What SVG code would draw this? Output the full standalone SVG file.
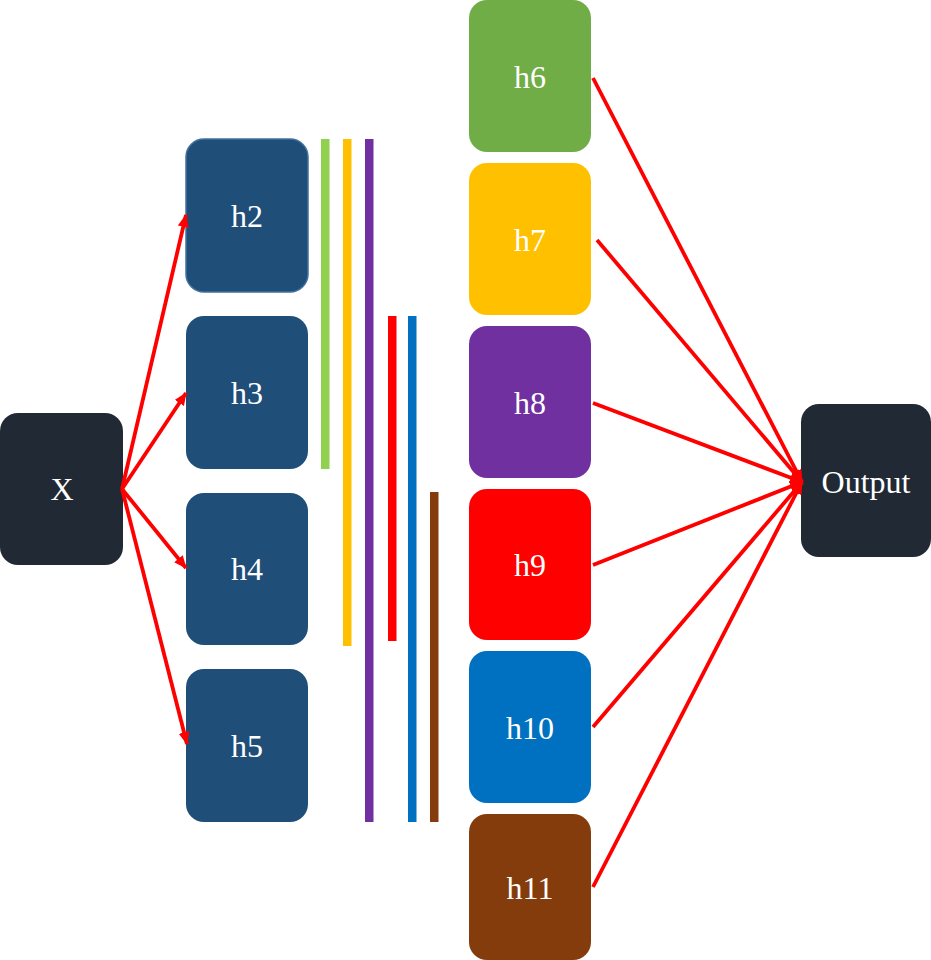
<svg xmlns="http://www.w3.org/2000/svg" width="931" height="960" viewBox="0 0 931 960">
<style>
.node text{font-family:"Liberation Serif","Times New Roman",serif;font-size:32px;fill:#ffffff;text-anchor:middle;dominant-baseline:central}
.blue rect{fill:#1F4E79}
.dark rect{fill:#212934}
.conn line{stroke:#FF0000;stroke-width:3.8;fill:none}
</style>
<defs>
<marker id="ah" markerUnits="userSpaceOnUse" markerWidth="13" markerHeight="11" refX="12" refY="5.5" orient="auto">
<path d="M0,0 L13,5.5 L0,11 z" fill="#FF0000"/>
</marker>
</defs>
<rect width="931" height="960" fill="#ffffff"/>
<g id="bars">
<rect x="321" y="139" width="8.5" height="330" fill="#92D050"/>
<rect x="343" y="139" width="8.5" height="507" fill="#FFC000"/>
<rect x="365" y="139" width="8.5" height="683" fill="#7030A0"/>
<rect x="388" y="316" width="8.5" height="325" fill="#FF0000"/>
<rect x="408" y="316" width="8.5" height="506" fill="#0070C0"/>
<rect x="430" y="492" width="8.5" height="330" fill="#843C0C"/>
</g>
<g id="nX" class="node dark"><rect x="0" y="413" width="123" height="152" rx="18"/><text x="62" y="489">X</text></g>
<g id="n2" class="node blue"><rect x="186" y="139" width="122" height="153" rx="18" stroke="#41719C" stroke-width="1.5"/><text x="247" y="216">h2</text></g>
<g id="n3" class="node blue"><rect x="186" y="316" width="122" height="153" rx="18"/><text x="247" y="393">h3</text></g>
<g id="n4" class="node blue"><rect x="186" y="493" width="122" height="152" rx="18"/><text x="247" y="569">h4</text></g>
<g id="n5" class="node blue"><rect x="186" y="669" width="122" height="153" rx="18"/><text x="247" y="746">h5</text></g>
<g id="n6" class="node"><rect x="469" y="0" width="122" height="152" rx="18" fill="#70AD47"/><text x="530" y="77">h6</text></g>
<g id="n7" class="node"><rect x="469" y="163" width="122" height="152" rx="18" fill="#FFC000"/><text x="530" y="240">h7</text></g>
<g id="n8" class="node"><rect x="469" y="326" width="122" height="152" rx="18" fill="#7030A0"/><text x="530" y="403">h8</text></g>
<g id="n9" class="node"><rect x="469" y="489" width="122" height="151" rx="18" fill="#FF0000"/><text x="530" y="565">h9</text></g>
<g id="n10" class="node"><rect x="469" y="651" width="122" height="152" rx="18" fill="#0070C0"/><text x="530" y="728">h10</text></g>
<g id="n11" class="node"><rect x="469" y="814" width="122" height="146" rx="18" fill="#843C0C"/><text x="530" y="888">h11</text></g>
<g id="nOut" class="node dark"><rect x="801" y="404" width="130" height="153" rx="18"/><text x="866" y="482">Output</text></g>
<g id="connectors" class="conn">
<line x1="122" y1="489" x2="186" y2="215" marker-end="url(#ah)"/>
<line x1="122" y1="489" x2="186" y2="393" marker-end="url(#ah)"/>
<line x1="122" y1="489" x2="186" y2="568" marker-end="url(#ah)"/>
<line x1="122" y1="489" x2="187" y2="744" marker-end="url(#ah)"/>
<line x1="593" y1="78" x2="802" y2="482" marker-end="url(#ah)"/>
<line x1="597" y1="240" x2="802" y2="482" marker-end="url(#ah)"/>
<line x1="593" y1="403" x2="802" y2="482" marker-end="url(#ah)"/>
<line x1="593" y1="565" x2="802" y2="482" marker-end="url(#ah)"/>
<line x1="593" y1="727" x2="802" y2="482" marker-end="url(#ah)"/>
<line x1="593" y1="887" x2="802" y2="482" marker-end="url(#ah)"/>
</g>
</svg>
